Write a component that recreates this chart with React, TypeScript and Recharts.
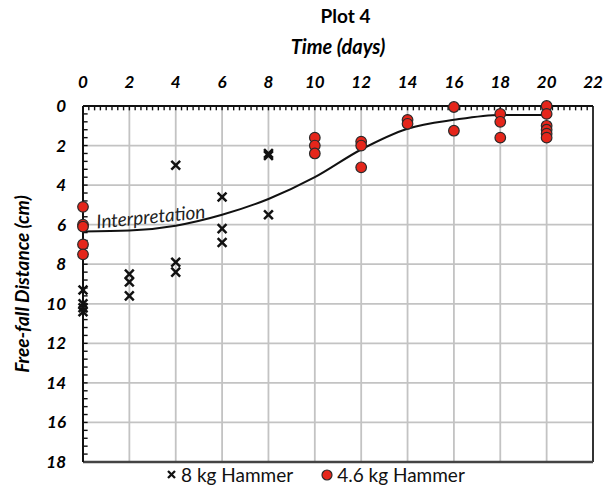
import React from "react";
import {
  ComposedChart, Scatter, Line, XAxis, YAxis,
  CartesianGrid, ReferenceLine,
} from "recharts";

// axis ticks
const dayTicks = [0, 2, 4, 6, 8, 10, 12, 14, 16, 18, 20, 22];
const depthTicks = [0, 2, 4, 6, 8, 10, 12, 14, 16, 18];

// 8 kg hammer drops
const heavyDays = [0, 0, 0, 0, 2, 2, 2, 4, 4, 4, 6, 6, 6, 8, 8, 8];
const heavyDepth = [9.3, 10.0, 10.2, 10.4, 8.5, 8.9, 9.6, 3.0, 7.9, 8.4, 4.6, 6.2, 6.9, 2.4, 2.5, 5.5];

// 4.6 kg hammer drops
const lightDays = [0, 0, 0, 0, 0, 10, 10, 10, 12, 12, 12, 14, 14, 16, 16, 18, 18, 18, 20, 20, 20, 20, 20, 20];
const lightDepth = [5.1, 6.0, 6.1, 7.0, 7.5, 1.6, 2.0, 2.4, 1.8, 2.0, 3.1, 0.7, 0.9, 0.05, 1.25, 0.4, 0.8, 1.6, 0.0, 0.4, 1.0, 1.2, 1.4, 1.6];

// hand-drawn interpretation curve
const fitDays = [0, 2, 4, 6, 8, 10, 12, 14, 16, 18, 20];
const fitDepth = [6.35, 6.3, 6.05, 5.5, 4.7, 3.6, 2.2, 1.15, 0.7, 0.45, 0.45];

const heavy = heavyDays.map((x, i) => ({ x, y: heavyDepth[i] }));
const light = lightDays.map((x, i) => ({ x, y: lightDepth[i] }));
const fit = fitDays.map((x, i) => ({ x, y: fitDepth[i] }));

// small inward tick marks along the top and left frame
const minorDays = Array.from({ length: 89 }, (_, i) => i * 0.25);
const minorDepth = Array.from({ length: 46 }, (_, i) => +(i * 0.4).toFixed(1));

const FONT = "Lato, 'Open Sans', sans-serif";
const tickStyle = { fill: "#000", fontSize: 17, fontStyle: "italic", fontWeight: 700, fontFamily: FONT };

const Cross = (props: any) => {
  const { cx, cy } = props;
  const s = 4.4;
  return (
    <g stroke="#111" strokeWidth={2.5}>
      <line x1={cx - s} y1={cy - s} x2={cx + s} y2={cy + s} />
      <line x1={cx - s} y1={cy + s} x2={cx + s} y2={cy - s} />
    </g>
  );
};

const Dot = (props: any) => (
  <circle cx={props.cx} cy={props.cy} r={5.3} fill="#e5261b" stroke="#2a2a2a" strokeWidth={1.2} />
);

const fitLabel = (p: any) => {
  if (p.index !== 0) return <g />;
  const x = p.x + 14;
  const y = p.y - 3;
  return (
    <text
      x={x} y={y}
      transform={`rotate(-5.5, ${x}, ${y})`}
      fontFamily={FONT} fontStyle="italic" fontSize={19} fill="#222"
    >
      Interpretation
    </text>
  );
};

export default function App() {
  return (
    <div style={{ position: "absolute", left: 0, top: 0, width: 605, height: 492, background: "#fff" }}>
      <div
        style={{
          position: "absolute", top: 4, left: 0, width: 605, paddingLeft: 86,
          boxSizing: "border-box", textAlign: "center",
          fontFamily: FONT, fontWeight: 700, fontSize: 19,
        }}
      >
        Plot 4
      </div>

      <ComposedChart
        width={605}
        height={492}
        margin={{ top: 56, right: 12, bottom: 30, left: 0 }}
      >
        <CartesianGrid stroke="#c3c3c3" strokeWidth={1.8} />
        <XAxis
          xAxisId={0}
          type="number"
          dataKey="x"
          orientation="top"
          domain={[0, 22]}
          ticks={dayTicks}
          height={50}
          tickLine={false}
          tickSize={0}
          tickMargin={18}
          axisLine={{ stroke: "#111", strokeWidth: 2 }}
          tick={tickStyle}
          label={{
            value: "Time (days)",
            position: "top",
            offset: 2,
            fill: "#000",
            fontSize: 20,
            fontStyle: "italic",
            fontWeight: 700,
            fontFamily: FONT,
          }}
        />
        <YAxis
          yAxisId={0}
          type="number"
          dataKey="y"
          reversed
          domain={[0, 18]}
          ticks={depthTicks}
          width={83}
          tickLine={false}
          tickSize={0}
          tickMargin={17}
          axisLine={{ stroke: "#111", strokeWidth: 2 }}
          tick={tickStyle}
          label={{
            value: "Free-fall Distance (cm)",
            angle: -90,
            position: "insideLeft",
            offset: 22,
            textAnchor: "middle",
            fill: "#000",
            fontSize: 19,
            fontStyle: "italic",
            fontWeight: 700,
            fontFamily: FONT,
            style: { textAnchor: "middle" },
          }}
        />

        {minorDays.map((v) => (
          <ReferenceLine key={`mx${v}`} segment={[{ x: v, y: 0 }, { x: v, y: 0.22 }]} stroke="#111" strokeWidth={1.4} />
        ))}
        {minorDepth.map((v) => (
          <ReferenceLine key={`my${v}`} segment={[{ x: 0, y: v }, { x: 0.2, y: v }]} stroke="#111" strokeWidth={1.4} />
        ))}
        <ReferenceLine x={22} stroke="#333" strokeWidth={2} />
        <ReferenceLine y={18} stroke="#444" strokeWidth={2.5} />

        <Line
          data={fit}
          dataKey="y"
          type="monotone"
          stroke="#111"
          strokeWidth={2}
          dot={false}
          label={fitLabel}
          isAnimationActive={false}
        />
        <Scatter data={heavy} dataKey="y" shape={Cross} isAnimationActive={false} />
        <Scatter data={light} dataKey="y" shape={Dot} isAnimationActive={false} />
      </ComposedChart>

      <div
        style={{
          position: "absolute", top: 463, left: 166, display: "flex", alignItems: "center",
          fontFamily: FONT, fontSize: 19, color: "#111",
        }}
      >
        <svg width={12} height={12} style={{ marginRight: 3 }}>
          <line x1={2} y1={2} x2={9} y2={9} stroke="#111" strokeWidth={2.3} />
          <line x1={2} y1={9} x2={9} y2={2} stroke="#111" strokeWidth={2.3} />
        </svg>
        <span>8 kg Hammer</span>
        <svg width={14} height={12} style={{ marginLeft: 28, marginRight: 2 }}>
          <circle cx={6} cy={6} r={5} fill="#e5261b" stroke="#2a2a2a" strokeWidth={1.2} />
        </svg>
        <span>4.6 kg Hammer</span>
      </div>
    </div>
  );
}
